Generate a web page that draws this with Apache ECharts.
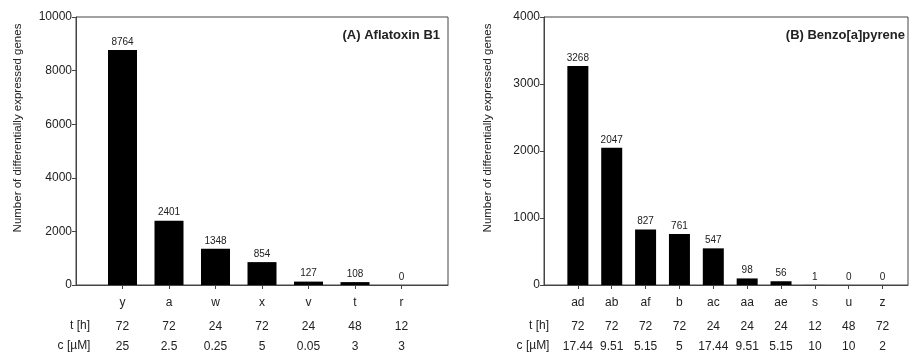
<!DOCTYPE html>
<html>
<head>
<meta charset="utf-8">
<script src="https://cdn.jsdelivr.net/npm/echarts@6/dist/echarts.min.js"></script>
<style>
  html, body { margin: 0; padding: 0; background: #fff; }
  #chart { width: 909px; height: 355px; }
</style>
</head>
<body>
<div id="chart"></div>
<script>
// (A) Aflatoxin B1
let catA = ["y", "a", "w", "x", "v", "t", "r"];
let valA = [8764, 2401, 1348, 854, 127, 108, 0];
let timeA = ["72", "72", "24", "72", "24", "48", "12"];
let concA = ["25", "2.5", "0.25", "5", "0.05", "3", "3"];

// (B) Benzo[a]pyrene
let catB = ["ad", "ab", "af", "b", "ac", "aa", "ae", "s", "u", "z"];
let valB = [3268, 2047, 827, 761, 547, 98, 56, 1, 0, 0];
let timeB = ["72", "72", "72", "72", "24", "24", "24", "12", "48", "72"];
let concB = ["17.44", "9.51", "5.15", "5", "17.44", "9.51", "5.15", "10", "10", "2"];

let font = "Arial, 'Liberation Sans', sans-serif";
let txt = "#222";
let line = "#444";

function positions(n) {
  let p = [];
  for (let i = 1; i <= n; i++) p.push(i);
  return p;
}

function xAxes(gridIndex, max, cats, times, concs) {
  let pos = positions(cats.length);
  let pick = function(arr) {
    return function(v) {
      let i = Math.round(v) - 1;
      return arr[i] !== undefined ? arr[i] : "";
    };
  };
  let base = {
    type: "value",
    gridIndex: gridIndex,
    position: "bottom",
    min: 0,
    max: max,
    splitLine: { show: false }
  };
  return [
    Object.assign({}, base, {
      axisLine: { show: true, onZero: false, lineStyle: { color: line, width: 1 } },
      axisTick: { show: true, inside: false, length: 4, customValues: pos, lineStyle: { color: line } },
      axisLabel: { show: true, margin: 12, customValues: pos, formatter: pick(cats), color: txt, fontSize: 12, fontFamily: font }
    }),
    Object.assign({}, base, {
      offset: 23,
      axisLine: { show: false },
      axisTick: { show: false, customValues: pos },
      axisLabel: { show: true, margin: 13, customValues: pos, formatter: pick(times), color: txt, fontSize: 12, fontFamily: font }
    }),
    Object.assign({}, base, {
      offset: 43,
      axisLine: { show: false },
      axisTick: { show: false, customValues: pos },
      axisLabel: { show: true, margin: 13, customValues: pos, formatter: pick(concs), color: txt, fontSize: 12, fontFamily: font }
    })
  ];
}

function yAxis(gridIndex, max, interval) {
  return {
    type: "value",
    gridIndex: gridIndex,
    min: 0,
    max: max,
    interval: interval,
    splitLine: { show: false },
    axisLine: { show: true, lineStyle: { color: line, width: 1 } },
    axisTick: { show: true, length: 4, lineStyle: { color: line } },
    axisLabel: {
      margin: 4, color: txt, fontSize: 12, fontFamily: font,
      formatter: function(v) { return String(v); }
    }
  };
}

function barSeries(xi, yi, vals, width) {
  return {
    type: "bar",
    xAxisIndex: xi,
    yAxisIndex: yi,
    barWidth: width,
    itemStyle: { color: "#000" },
    label: {
      show: true,
      position: "top",
      distance: 3,
      color: txt,
      fontSize: 10,
      fontFamily: font,
      formatter: function(p) { return p.value[1]; }
    },
    data: vals.map(function(v, i) { return [i + 1, v]; })
  };
}

function text(x, y, s, opts) {
  return {
    type: "text",
    x: x,
    y: y,
    style: Object.assign({
      text: s,
      fill: txt,
      font: "12px " + font,
      align: "center",
      verticalAlign: "middle"
    }, opts || {})
  };
}

let yTitle = "Number of differentially expressed genes";

let option = {
  animation: false,
  grid: [
    { left: 76, top: 17, width: 372, height: 268, show: true, borderColor: line, borderWidth: 1, backgroundColor: "transparent" },
    { left: 544, top: 17, width: 364, height: 268, show: true, borderColor: line, borderWidth: 1, backgroundColor: "transparent" }
  ],
  xAxis: xAxes(0, 8, catA, timeA, concA).concat(xAxes(1, 10.75, catB, timeB, concB)),
  yAxis: [yAxis(0, 10000, 2000), yAxis(1, 4000, 1000)],
  series: [
    barSeries(0, 0, valA, 29),
    barSeries(3, 1, valB, 21)
  ],
  graphic: [
    text(440, 35, "(A) Aflatoxin B1", { font: "bold 13px " + font, align: "right" }),
    text(905, 35, "(B) Benzo[a]pyrene", { font: "bold 13px " + font, align: "right" }),
    Object.assign(text(18, 128, yTitle, { font: "11.5px " + font }), { rotation: Math.PI / 2 }),
    Object.assign(text(488, 128, yTitle, { font: "11.5px " + font }), { rotation: Math.PI / 2 }),
    text(80, 326, "t [h]"),
    text(74, 346, "c [µM]"),
    text(539, 326, "t [h]"),
    text(533, 346, "c [µM]")
  ]
};

let myChart = echarts.init(document.getElementById("chart"));
myChart.setOption(option, true);
</script>
</body>
</html>
